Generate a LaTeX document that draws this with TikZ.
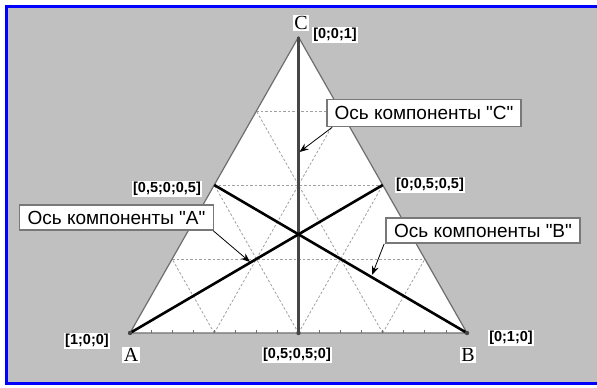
\documentclass[tikz,border=0pt]{standalone}
\usepackage{fontspec}
\setmainfont{Liberation Sans}
\newfontfamily\serifA{Liberation Serif}
\newfontfamily\callfont{Liberation Sans}
\usetikzlibrary{calc,arrows.meta}
\definecolor{bggray}{RGB}{192,192,192}
\definecolor{gridgray}{RGB}{160,160,160}
\definecolor{edgegray}{RGB}{110,110,110}
\definecolor{medgray}{RGB}{70,70,70}
\definecolor{boxgray}{RGB}{120,120,120}
\tikzset{
  gridline/.style={draw=gridgray, line width=0.8pt, dash pattern=on 2.5pt off 2pt},
  edgeline/.style={draw=edgegray, line width=1.2pt},
  medline/.style={draw=black, line width=2.6pt},
  medlineC/.style={draw=medgray, line width=2.6pt},
  coord/.style={fill=white, inner sep=1.5pt, font=\fontsize{14.5}{16}\selectfont\bfseries},
  vlabel/.style={fill=white, inner sep=1.5pt, font=\serifA\fontsize{20}{22}\selectfont},
  callout/.style={draw=boxgray, line width=1.6pt, fill=white, minimum width=194pt, minimum height=26pt, inner sep=0pt, font=\callfont\fontsize{19}{21}\selectfont},
  pointer/.style={draw=black, line width=0.8pt, -{Stealth[length=9pt,width=7pt]}},
  tick/.style={draw=edgegray, line width=0.8pt}
}
\begin{document}
\begin{tikzpicture}[x=1pt,y=-1pt]
\useasboundingbox (0,0) rectangle (597,388);
\fill[white] (0,0) rectangle (597,388);
\fill[bggray] (6.5,6.5) rectangle (597,383.5);
\draw[blue, line width=3pt] (597,6.5) -- (6.5,6.5) -- (6.5,383.5) -- (597,383.5);
% vertices
\coordinate (A) at (130,333);
\coordinate (B) at (467,333);
\coordinate (C) at (298.5,37);
\coordinate (mAB) at ($(A)!0.5!(B)$);
\coordinate (mAC) at ($(A)!0.5!(C)$);
\coordinate (mBC) at ($(B)!0.5!(C)$);
\fill[white] (A) -- (B) -- (C) -- cycle;
% grid
\foreach \k in {1,2,3}{
  \draw[gridline] ($(A)!\k/4!(C)$) -- ($(B)!\k/4!(C)$);
  \draw[gridline] ($(B)!\k/4!(A)$) -- ($(C)!\k/4!(A)$);
  \draw[gridline] ($(A)!\k/4!(B)$) -- ($(C)!\k/4!(B)$);
}
\foreach \i in {1,...,15}{
  \draw[tick] ($(A)!\i/16!(B)$) -- ++(0,-3);
}
\draw[edgeline] (A) -- (B) -- (C) -- cycle;
% medians
\draw[medlineC] (C) -- (mAB);
\draw[medline] (A) -- (mBC);
\draw[medline] (B) -- (mAC);
\foreach \p in {A,B,mAB}{\fill[medgray] (\p) circle (2.2pt);}
% labels
\node[vlabel] (lC) at (301,23) {C};
\node[vlabel] (lA) at (131,355) {A};
\node[vlabel] (lB) at (468,355) {B};
\node[coord] (cC) at (335,35) {[0;0;1]};
\node[coord] (cA) at (87,341) {[1;0;0]};
\node[coord] (cB) at (511,338) {[0;1;0]};
\node[coord] (cAB) at (297,355) {[0,5;0,5;0]};
\node[coord] (cAC) at (167,189) {[0,5;0;0,5]};
\node[coord] (cBC) at (430,185) {[0;0,5;0,5]};
% callouts
\node[callout, minimum height=27pt] (bC) at (424,113) {Ось компоненты "C"};
\node[callout, minimum height=25pt] (bA) at (116.5,217.5) {Ось компоненты "A"};
\node[callout, minimum height=25pt] (bB) at (483,230.5) {Ось компоненты "B"};
\coordinate (tC) at (299.5,152);
\coordinate (tA) at (250,262);
\coordinate (tB) at (372,275);
\draw[pointer] ([xshift=6pt]bC.south west) -- (tC);
\draw[pointer] ([xshift=-1pt]bA.south east) -- (tA);
\draw[pointer] ([xshift=-1pt]bB.south west) -- (tB);
\end{tikzpicture}
\end{document}
